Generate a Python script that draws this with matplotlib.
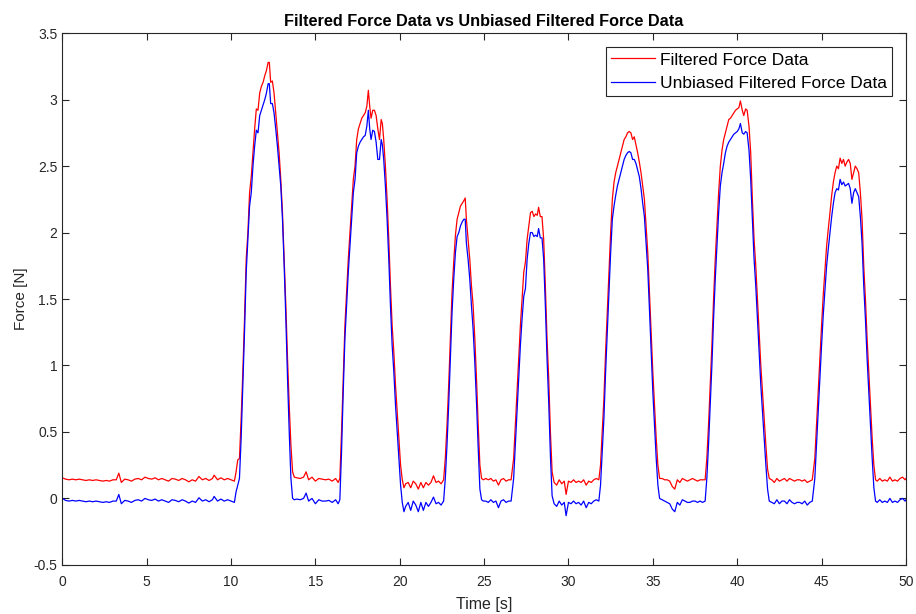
import matplotlib
matplotlib.use("Agg")
import matplotlib.pyplot as plt
from matplotlib.ticker import FormatStrFormatter

# time [s]
time_s = [
    # baseline before first press
    0.0, 0.2, 0.4, 0.6, 0.8, 1.0, 1.2, 1.4, 1.6, 1.8,
    2.0, 2.2, 2.4, 2.6, 2.8, 3.0, 3.2, 3.35, 3.5, 3.7,
    3.9, 4.1, 4.3, 4.5, 4.7, 4.9, 5.1, 5.3, 5.5, 5.7,
    5.9, 6.1, 6.3, 6.5, 6.7, 6.9, 7.1, 7.3, 7.5, 7.7,
    7.9, 8.1, 8.3, 8.5, 8.7, 8.9, 9.0, 9.2, 9.4, 9.6,
    9.8, 10.0, 10.2,
    # peak 1
    10.3, 10.4, 10.5, 10.6, 10.7, 10.8, 10.9, 11.0, 11.1, 11.2,
    11.3, 11.4, 11.5, 11.6, 11.7, 11.8, 11.9, 12.0, 12.1, 12.2,
    12.27, 12.35, 12.45, 12.55, 12.65, 12.75, 12.85, 12.95, 13.05, 13.15,
    13.25, 13.35, 13.45, 13.55, 13.65, 13.75,
    # baseline
    13.9, 14.1, 14.3, 14.45, 14.6, 14.8, 15.0, 15.2, 15.4, 15.6,
    15.8, 16.0, 16.2, 16.35,
    # peak 2
    16.45, 16.55, 16.65, 16.75, 16.85, 16.95, 17.05, 17.15, 17.25, 17.35,
    17.45, 17.55, 17.65, 17.75, 17.85, 17.95, 18.05, 18.14, 18.22, 18.3,
    18.4, 18.5, 18.6, 18.7, 18.8, 18.9, 18.97, 19.05, 19.15, 19.25,
    19.35, 19.45, 19.55, 19.65, 19.75, 19.85, 19.95, 20.05, 20.15, 20.25,
    # baseline
    20.35, 20.5, 20.65, 20.8, 20.95, 21.1, 21.25, 21.4, 21.55, 21.7,
    21.85, 22.0, 22.15, 22.3, 22.45, 22.6,
    # peak 3
    22.7, 22.8, 22.9, 23.0, 23.1, 23.2, 23.3, 23.4, 23.5, 23.6,
    23.7, 23.8, 23.88, 23.95, 24.05, 24.15, 24.25, 24.35, 24.45, 24.55,
    24.65, 24.75, 24.85,
    # baseline
    24.95, 25.1, 25.25, 25.4, 25.55, 25.7, 25.85, 26.0, 26.15, 26.3,
    26.45, 26.6,
    # peak 4
    26.75, 26.85, 26.95, 27.05, 27.15, 27.25, 27.35, 27.45, 27.55, 27.65,
    27.75, 27.85, 27.95, 28.05, 28.15, 28.23, 28.33, 28.43, 28.53, 28.63,
    28.73, 28.83, 28.93, 29.03,
    # baseline
    29.15, 29.3, 29.45, 29.6, 29.75, 29.86, 30.0, 30.15, 30.3, 30.45,
    30.6, 30.75, 30.9, 31.05, 31.2, 31.35, 31.5, 31.65, 31.8,
    # peak 5
    31.9, 32.0, 32.1, 32.2, 32.3, 32.4, 32.5, 32.6, 32.7, 32.8,
    32.9, 33.0, 33.1, 33.2, 33.3, 33.4, 33.5, 33.6, 33.7, 33.8,
    33.9, 34.0, 34.1, 34.2, 34.3, 34.4, 34.5, 34.6, 34.7, 34.8,
    34.9, 35.0, 35.1, 35.2, 35.3, 35.4,
    # baseline
    35.55, 35.7, 35.85, 36.0, 36.15, 36.3, 36.45, 36.6, 36.75, 36.9,
    37.05, 37.2, 37.35, 37.5, 37.65, 37.8, 37.95, 38.1,
    # peak 6
    38.2, 38.3, 38.4, 38.5, 38.6, 38.7, 38.8, 38.9, 39.0, 39.1,
    39.2, 39.3, 39.4, 39.5, 39.6, 39.7, 39.8, 39.9, 40.0, 40.1,
    40.19, 40.3, 40.39, 40.5, 40.59, 40.7, 40.8, 40.9, 41.0, 41.1,
    41.2, 41.3, 41.4, 41.5, 41.6, 41.7, 41.8, 41.9,
    # baseline
    42.05, 42.2, 42.35, 42.5, 42.65, 42.8, 42.95, 43.1, 43.25, 43.4,
    43.55, 43.7, 43.85, 44.0, 44.15, 44.3, 44.45,
    # peak 7
    44.6, 44.7, 44.8, 44.9, 45.0, 45.1, 45.2, 45.3, 45.4, 45.5,
    45.6, 45.7, 45.8, 45.9, 46.0, 46.1, 46.2, 46.3, 46.4, 46.5,
    46.6, 46.7, 46.8, 46.9, 47.0, 47.1, 47.2, 47.3, 47.4, 47.5,
    47.6, 47.7, 47.8, 47.9, 48.0, 48.1, 48.2,
    # baseline
    48.3, 48.45, 48.6, 48.75, 48.9, 49.05, 49.2, 49.35, 49.5, 49.65,
    49.8, 49.95, 50.0,
]

filtered_force = [
    0.155, 0.145, 0.14, 0.145, 0.14, 0.145, 0.14, 0.135, 0.14, 0.135,
    0.14, 0.135, 0.13, 0.135, 0.13, 0.14, 0.14, 0.19, 0.12, 0.145,
    0.14, 0.13, 0.145, 0.15, 0.14, 0.16, 0.15, 0.145, 0.155, 0.14,
    0.15, 0.14, 0.13, 0.15, 0.145, 0.135, 0.15, 0.14, 0.125, 0.14,
    0.13, 0.165, 0.14, 0.15, 0.135, 0.15, 0.175, 0.14, 0.155, 0.14,
    0.15, 0.14, 0.13,
    0.2, 0.29, 0.3, 0.6, 0.95, 1.35, 1.8, 2.0, 2.3, 2.42,
    2.6, 2.78, 2.93, 2.92, 3.05, 3.1, 3.13, 3.18, 3.22, 3.28,
    3.28, 3.13, 3.14, 3.05, 2.9, 2.75, 2.6, 2.4, 2.15, 1.8,
    1.45, 1.05, 0.7, 0.4, 0.2, 0.16,
    0.155, 0.15, 0.16, 0.2, 0.14, 0.16, 0.13, 0.15, 0.145, 0.14,
    0.145, 0.13, 0.15, 0.12,
    0.15, 0.5, 0.9, 1.3, 1.55, 1.8, 2.0, 2.2, 2.4, 2.5,
    2.7, 2.78, 2.82, 2.86, 2.88, 2.9, 2.95, 3.07, 2.95, 2.86,
    2.92, 2.92, 2.88, 2.78, 2.7, 2.85, 2.82, 2.7, 2.5, 2.25,
    1.95, 1.6, 1.3, 1.1, 0.85, 0.65, 0.45, 0.25, 0.14, 0.08,
    0.11, 0.12, 0.08, 0.13, 0.11, 0.07, 0.12, 0.08, 0.12, 0.1,
    0.12, 0.17, 0.12, 0.13, 0.11, 0.14,
    0.3, 0.55, 0.85, 1.2, 1.55, 1.78, 1.98, 2.1, 2.15, 2.2,
    2.22, 2.24, 2.26, 2.1, 1.95, 1.8, 1.6, 1.45, 1.2, 0.9,
    0.55, 0.25, 0.15,
    0.14, 0.15, 0.14, 0.15, 0.13, 0.14, 0.1, 0.14, 0.15, 0.13,
    0.14, 0.14,
    0.3, 0.55, 0.8, 1.05, 1.3, 1.5, 1.7, 1.78, 1.95, 2.05,
    2.15, 2.16, 2.12, 2.14, 2.13, 2.19, 2.12, 2.12, 1.95, 1.6,
    1.2, 0.9, 0.5, 0.2,
    0.12, 0.1, 0.14, 0.11, 0.13, 0.03, 0.13, 0.12, 0.14, 0.12,
    0.13, 0.12, 0.14, 0.1, 0.13, 0.12, 0.14, 0.15, 0.14,
    0.25, 0.5, 0.75, 1.1, 1.4, 1.7, 2.0, 2.25, 2.38, 2.45,
    2.5, 2.55, 2.6, 2.65, 2.7, 2.72, 2.75, 2.76, 2.75, 2.7,
    2.72, 2.66, 2.6, 2.53, 2.45, 2.35, 2.25, 2.05, 1.85, 1.55,
    1.25, 0.95, 0.7, 0.45, 0.25, 0.15,
    0.15, 0.14, 0.14, 0.13, 0.09, 0.07, 0.14, 0.12, 0.15, 0.14,
    0.13, 0.14, 0.15, 0.14, 0.13, 0.14, 0.14, 0.14,
    0.3, 0.55, 0.85, 1.15, 1.5, 1.8, 2.05, 2.3, 2.5, 2.62,
    2.7, 2.75, 2.8, 2.85, 2.86, 2.88, 2.9, 2.92, 2.93, 2.94,
    2.99, 2.92, 2.88, 2.93, 2.92, 2.8, 2.6, 2.25, 1.95, 1.75,
    1.5, 1.25, 1.0, 0.8, 0.6, 0.4, 0.22, 0.15,
    0.14, 0.12, 0.15, 0.13, 0.14, 0.15, 0.13, 0.15, 0.14, 0.13,
    0.14, 0.14, 0.13, 0.14, 0.12, 0.13, 0.14,
    0.3, 0.55, 0.8, 1.05, 1.3, 1.53, 1.72, 1.9, 2.03, 2.15,
    2.28, 2.38, 2.45, 2.5, 2.48, 2.56, 2.52, 2.55, 2.5, 2.53,
    2.55, 2.52, 2.4, 2.45, 2.5, 2.48, 2.45, 2.3, 2.1, 1.75,
    1.5, 1.2, 0.95, 0.7, 0.45, 0.25, 0.14,
    0.13, 0.15, 0.13, 0.14, 0.13, 0.16, 0.13, 0.14, 0.13, 0.15,
    0.16, 0.14, 0.15,
]

unbiased_force = [
    0.0, -0.015, -0.02, -0.015, -0.02, -0.015, -0.02, -0.025, -0.02, -0.025,
    -0.02, -0.025, -0.03, -0.025, -0.03, -0.02, -0.02, 0.03, -0.04, -0.015,
    -0.02, -0.03, -0.015, -0.01, -0.02, 0.0, -0.01, -0.015, -0.005, -0.02,
    -0.01, -0.02, -0.03, -0.01, -0.015, -0.025, -0.01, -0.02, -0.035, -0.02,
    -0.03, 0.005, -0.02, -0.01, -0.025, -0.01, 0.015, -0.02, -0.005, -0.02,
    -0.01, -0.02, -0.03,
    0.05, 0.1, 0.15, 0.45, 0.85, 1.25, 1.7, 1.95, 2.2, 2.3,
    2.5, 2.65, 2.77, 2.75, 2.88, 2.92, 2.96, 3.0, 3.05, 3.12,
    3.12, 2.97, 2.97, 2.9, 2.78, 2.65, 2.5, 2.35, 2.1, 1.75,
    1.35, 0.9, 0.5, 0.15, 0.0, -0.01,
    -0.005, -0.01, 0.0, 0.04, -0.02, 0.0, -0.04, -0.01, -0.02, -0.02,
    -0.015, -0.03, -0.01, -0.04,
    -0.01, 0.35, 0.8, 1.2, 1.45, 1.7, 1.9, 2.1, 2.3, 2.4,
    2.6, 2.65, 2.68, 2.7, 2.72, 2.73, 2.8, 2.92, 2.78, 2.7,
    2.77, 2.76, 2.68, 2.55, 2.55, 2.7, 2.66, 2.55, 2.35, 2.1,
    1.8, 1.45, 1.15, 0.95, 0.7, 0.5, 0.3, 0.1, -0.03, -0.1,
    -0.06, -0.03, -0.09, -0.02, -0.05, -0.1, -0.03, -0.09, -0.03, -0.06,
    -0.03, 0.01, -0.04, -0.03, -0.05, -0.02,
    0.15, 0.4, 0.7, 1.05, 1.4, 1.65, 1.85, 1.97, 2.0, 2.05,
    2.08, 2.1, 2.1, 1.92, 1.8, 1.65, 1.45, 1.27, 1.02, 0.72,
    0.38, 0.07, -0.01,
    -0.02, -0.02, -0.03, -0.01, -0.03, -0.02, -0.07, -0.02, -0.01, -0.03,
    -0.02, -0.02,
    0.15, 0.4, 0.65, 0.9, 1.15, 1.35, 1.52, 1.58, 1.8, 1.92,
    2.0, 2.0, 1.97, 1.98, 1.97, 2.03, 1.96, 1.96, 1.8, 1.45,
    1.05, 0.72, 0.32, 0.02,
    -0.04, -0.06, -0.02, -0.05, -0.03, -0.13, -0.03, -0.04, -0.02, -0.04,
    -0.03, -0.05, -0.02, -0.07, -0.03, -0.04, -0.02, -0.01, -0.02,
    0.1, 0.35, 0.6, 0.95, 1.25, 1.55, 1.85, 2.1, 2.2, 2.28,
    2.35, 2.4, 2.45, 2.5, 2.55, 2.58, 2.6, 2.61, 2.6, 2.55,
    2.55, 2.52, 2.47, 2.42, 2.33, 2.22, 2.12, 1.92, 1.72, 1.42,
    1.1, 0.8, 0.55, 0.3, 0.1, 0.0,
    -0.01, -0.02, -0.03, -0.04, -0.08, -0.1, -0.03, -0.05, -0.01, -0.02,
    -0.03, -0.03, -0.02, -0.02, -0.03, -0.02, -0.03, -0.02,
    0.15, 0.4, 0.7, 1.0, 1.35, 1.65, 1.9, 2.15, 2.35, 2.45,
    2.52, 2.6, 2.65, 2.68, 2.7, 2.72, 2.74, 2.75, 2.76, 2.78,
    2.82, 2.75, 2.74, 2.76, 2.75, 2.62, 2.4, 2.1, 1.8, 1.6,
    1.35, 1.1, 0.85, 0.65, 0.45, 0.25, 0.07, -0.02,
    -0.03, -0.04, -0.01, -0.04, -0.02, -0.02, -0.04, -0.01, -0.03, -0.04,
    -0.03, -0.03, -0.04, -0.02, -0.05, -0.03, -0.02,
    0.15, 0.4, 0.65, 0.9, 1.15, 1.38, 1.57, 1.75, 1.88, 2.0,
    2.12, 2.22, 2.3, 2.33, 2.32, 2.4, 2.36, 2.38, 2.35, 2.36,
    2.37, 2.33, 2.22, 2.3, 2.33, 2.3, 2.27, 2.12, 1.92, 1.6,
    1.35, 1.05, 0.8, 0.55, 0.3, 0.08, -0.02,
    -0.03, -0.01, -0.03, -0.02, -0.03, 0.0, -0.03, -0.02, -0.03, -0.01,
    0.0, -0.02, -0.01,
]

plt.rcParams["font.family"] = ["Liberation Sans", "DejaVu Sans"]
plt.rcParams["axes.unicode_minus"] = False

fig = plt.figure(figsize=(9.16, 6.14), dpi=100)
ax = fig.add_axes([0.068, 0.080, 0.921, 0.866])

ax.plot(time_s, filtered_force, color="red", lw=0.9, label="Filtered Force Data")
ax.plot(time_s, unbiased_force, color="blue", lw=0.9, label="Unbiased Filtered Force Data")

ax.set_xlim(0, 50)
ax.set_ylim(-0.5, 3.5)
ax.set_xticks(range(0, 51, 5))
ax.set_yticks([-0.5, 0, 0.5, 1, 1.5, 2, 2.5, 3, 3.5])
ax.yaxis.set_major_formatter(FormatStrFormatter("%g"))

grey = "#262626"
ax.tick_params(direction="in", length=5, width=0.8, top=True, right=True,
               colors=grey, labelsize=10)
ax.tick_params(axis="x", pad=7)
for s in ax.spines.values():
    s.set_color(grey)
    s.set_linewidth(0.8)

ax.set_xlabel("Time [s]", fontsize=11.5, color=grey, labelpad=6)
ax.set_ylabel("Force [N]", fontsize=11, color=grey, labelpad=4)
ax.set_title("Filtered Force Data vs Unbiased Filtered Force Data",
             fontsize=11.7, fontweight="bold", pad=5)

leg = ax.legend(loc="upper right", bbox_to_anchor=(0.9834, 0.9737), fontsize=12.5,
                fancybox=False, framealpha=1, edgecolor=grey,
                borderpad=0.3, labelspacing=0.49, handlelength=2.5,
                handletextpad=0.3, borderaxespad=0)
leg.get_frame().set_linewidth(0.8)

fig.savefig("out.png", dpi=100)
